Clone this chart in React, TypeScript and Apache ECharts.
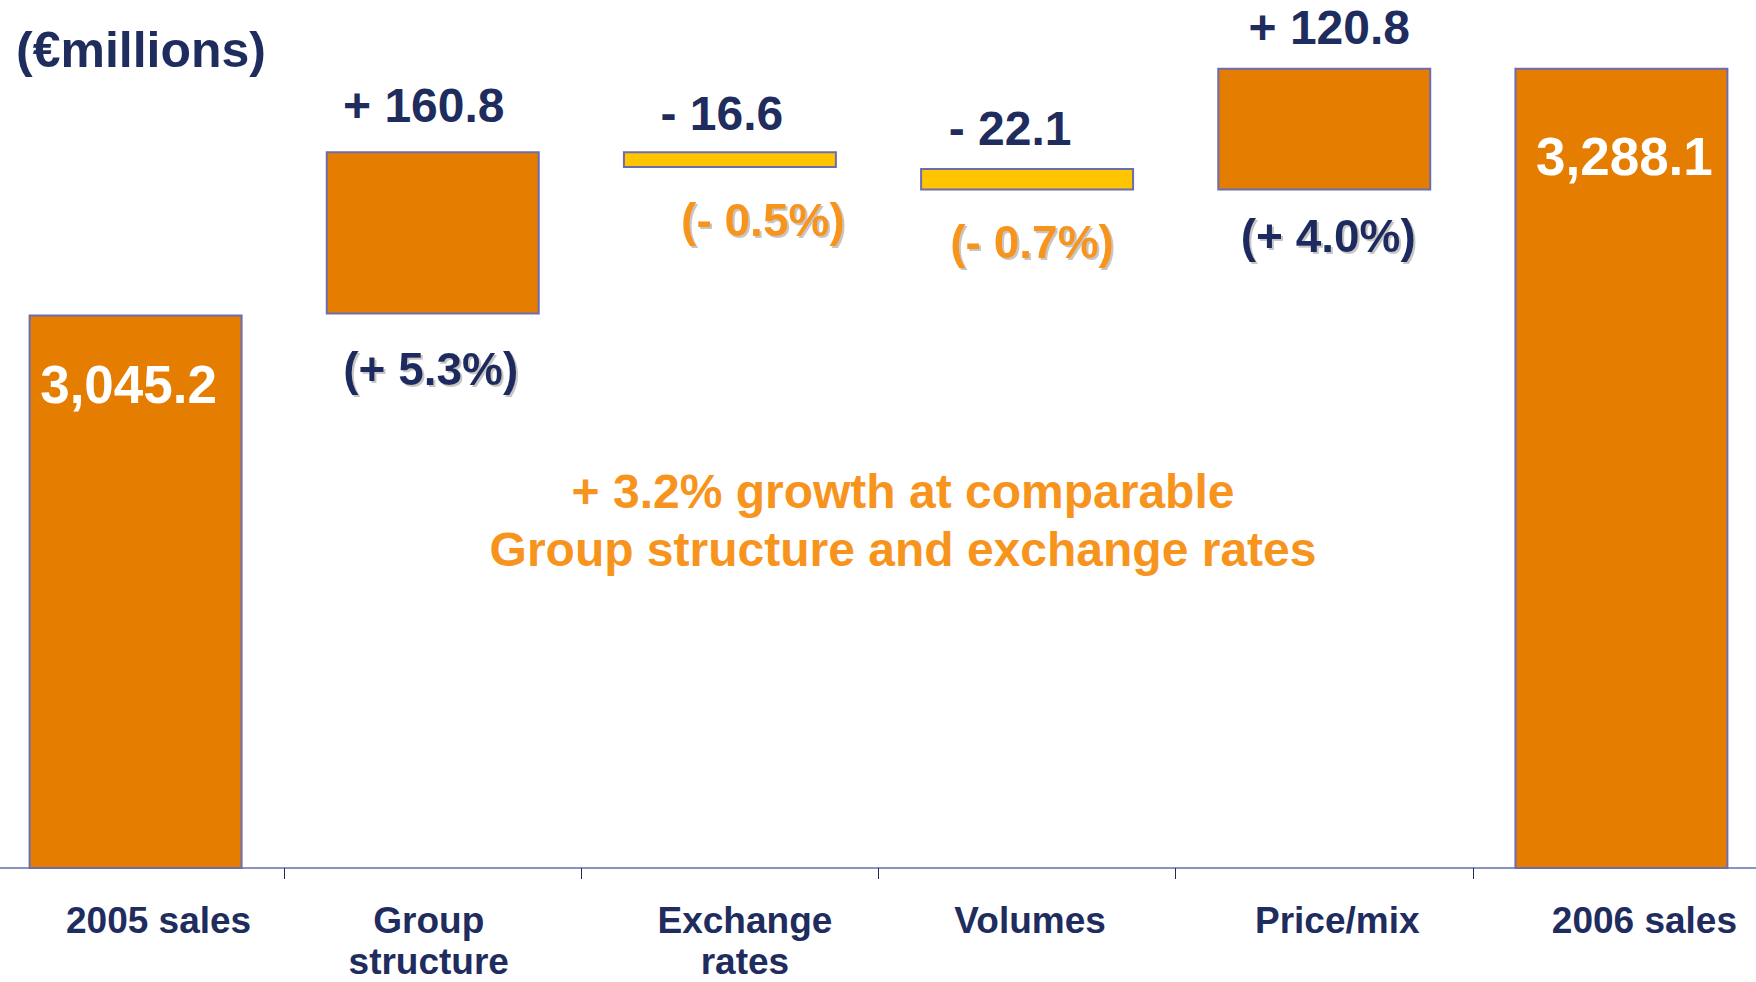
import React, { useEffect, useRef } from 'react';
import * as echarts from 'echarts';

// ---- data ----
const categories = ['2005 sales', 'Group\nstructure', 'Exchange\nrates', 'Volumes', 'Price/mix', '2006 sales'];
const startSales = 3045.2;
const endSales = 3288.1;
const changes = [160.8, -16.6, -22.1, 120.8];
const changeLabels = ['+ 160.8', '- 16.6', '- 22.1', '+ 120.8'];
const percentLabels = ['(+ 5.3%)', '(- 0.5%)', '(- 0.7%)', '(+ 4.0%)'];
const totalLabels = ['3,045.2', '3,288.1'];
const noteLines = ['+ 3.2% growth at comparable', 'Group structure and exchange rates'];
const unitLabel = '(€millions)';

// ---- styling ----
const NAVY = '#1F2C5E';
const ORANGE_BAR = '#E47D00';
const YELLOW_BAR = '#FFC500';
const ORANGE_TEXT = '#F7941D';
const BORDER = '#6C6CB0';
const FONT = "'Liberation Sans', Arial, sans-serif";

// label nudges (px) relative to bar edges
const changeLabelNudge = [[-9, -46], [-8, -38], [-17, -40], [5, -40]];
const percentLabelNudge = [[-2, 55], [33, 52], [5, 52], [4, 46]];
const totalLabelNudge = [[-7, 70], [3, 89]];
const categoryShift = [23, -4, 15, 3, 13, 23];

export default function App() {
  const ref = useRef<HTMLDivElement>(null);
  useEffect(() => {
    if (!ref.current) return;
    const chart = echarts.init(ref.current, undefined, { renderer: 'svg' });

    const base: any[] = ['-'];
    const delta: any[] = ['-'];
    let running = startSales;
    changes.forEach((c, i) => {
      const lower = c >= 0 ? running : running + c;
      const neg = c < 0;
      base.push({
        value: +lower.toFixed(1),
        label: {
          show: true,
          position: 'insideTop',
          distance: 0,
          verticalAlign: 'middle',
          align: 'center',
          offset: percentLabelNudge[i],
          formatter: percentLabels[i],
          color: neg ? ORANGE_TEXT : NAVY,
          fontSize: 46,
          fontWeight: 'bold',
          fontFamily: FONT,
          textShadowColor: 'rgba(140,140,140,0.5)',
          textShadowOffsetX: 2,
          textShadowOffsetY: 2,
          textShadowBlur: 1,
        },
      });
      delta.push({
        value: +Math.abs(c).toFixed(1),
        itemStyle: { color: neg ? YELLOW_BAR : ORANGE_BAR },
        label: {
          show: true,
          position: 'top',
          distance: 0,
          verticalAlign: 'middle',
          align: 'center',
          offset: changeLabelNudge[i],
          formatter: changeLabels[i],
          color: NAVY,
          fontSize: 48,
          fontWeight: 'bold',
          fontFamily: FONT,
        },
      });
      running += c;
    });
    base.push('-');
    delta.push('-');

    const totalVals = [startSales, endSales];
    const totals: any[] = categories.map(() => '-');
    [0, categories.length - 1].forEach((idx, k) => {
      totals[idx] = {
        value: totalVals[k],
        label: {
          show: true,
          position: 'insideTop',
          distance: 0,
          verticalAlign: 'middle',
          align: 'center',
          offset: totalLabelNudge[k],
          formatter: totalLabels[k],
          color: '#FFFFFF',
          fontSize: 53,
          fontWeight: 'bold',
          fontFamily: FONT,
        },
      };
    });

    const catData = categories.map((c, i) => {
      const s = categoryShift[i];
      return {
        value: c,
        textStyle: { padding: s >= 0 ? [0, 0, 0, 2 * s] : [0, -2 * s, 0, 0] },
      };
    });

    chart.setOption({
      animation: false,
      backgroundColor: '#FFFFFF',
      textStyle: { fontFamily: FONT },
      title: {
        text: unitLabel,
        left: 11,
        top: 20,
        textStyle: { color: NAVY, fontSize: 50, fontWeight: 'bold', fontFamily: FONT },
      },
      grid: {
        left: -13,
        right: -14,
        top: 5,
        bottom: 114,
        containLabel: false,
        outerBoundsMode: 'none',
      },
      xAxis: {
        type: 'category',
        data: catData,
        axisLine: { show: true, lineStyle: { color: '#8C92C0', width: 2 } },
        axisTick: { show: true, interval: 0, length: 11, lineStyle: { color: NAVY, width: 1 } },
        axisLabel: {
          interval: 0,
          margin: 32,
          color: NAVY,
          fontSize: 37,
          fontWeight: 'bold',
          fontFamily: FONT,
          lineHeight: 41,
          hideOverlap: false,
        },
        splitLine: { show: false },
      },
      yAxis: {
        type: 'value',
        min: 2500,
        max: 3350,
        show: false,
        splitLine: { show: false },
      },
      series: [
        {
          name: 'base',
          type: 'bar',
          stack: 'w',
          barWidth: '72%',
          itemStyle: { color: 'rgba(0,0,0,0)', borderWidth: 0 },
          emphasis: { disabled: true },
          data: base,
          z: 3,
        },
        {
          name: 'change',
          type: 'bar',
          stack: 'w',
          barWidth: '72%',
          itemStyle: { borderColor: BORDER, borderWidth: 2 },
          emphasis: { disabled: true },
          data: delta,
          z: 2,
        },
        {
          name: 'total',
          type: 'bar',
          barWidth: '72%',
          barGap: '-100%',
          itemStyle: { color: ORANGE_BAR, borderColor: BORDER, borderWidth: 2 },
          emphasis: { disabled: true },
          data: totals,
          z: 2,
        },
      ],
      graphic: [
        {
          type: 'text',
          x: 903,
          y: 520,
          style: {
            text: noteLines.join('\n'),
            fill: ORANGE_TEXT,
            font: `bold 48px ${FONT}`,
            textAlign: 'center',
            textVerticalAlign: 'middle',
            lineHeight: 58,
          },
        },
      ],
    });
    return () => chart.dispose();
  }, []);
  return (
    <div
      ref={ref}
      style={{ position: 'fixed', left: 0, top: 0, width: 1756, height: 982, background: '#fff' }}
    />
  );
}
